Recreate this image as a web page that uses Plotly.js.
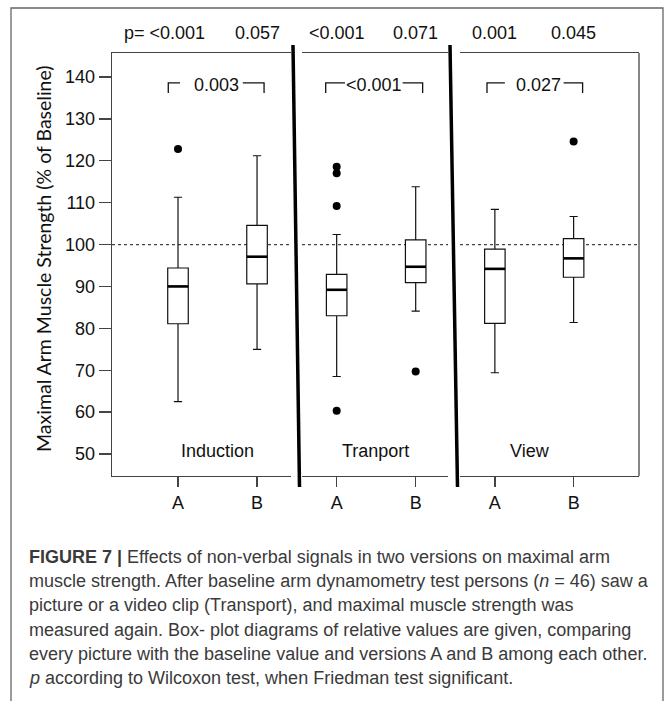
<!DOCTYPE html>
<html>
<head>
<meta charset="utf-8">
<script src="https://cdn.plot.ly/plotly-3.0.1.min.js"></script>
<style>
html,body{margin:0;padding:0;background:#fff;}
#chart{width:670px;height:701px;}
</style>
</head>
<body>
<div id="chart"></div>
<script>
// ---- data ----
const versions = ['A', 'B'];
const panels = ['Induction', 'Tranport', 'View'];
// order per panel: [A, B]
const lowerWhisker = [[62.5, 75.0], [68.5, 84.1], [69.4, 81.4]];
const q1 = [[81.1, 90.6], [83.0, 90.9], [81.2, 92.2]];
const median = [[90.0, 97.1], [89.2, 94.7], [94.2, 96.7]];
const q3 = [[94.4, 104.6], [92.9, 101.1], [98.9, 101.4]];
const upperWhisker = [[111.3, 121.2], [102.4, 113.8], [108.4, 106.7]];
const outliers = [[[122.8], []], [[118.6, 117.0, 109.2, 60.3], [69.7]], [[], [124.6]]];
const friedmanP = [['<0.001', '0.057'], ['<0.001', '0.071'], ['0.001', '0.045']];
const wilcoxonAB = ['0.003', '<0.001', '0.027'];
const baselineValue = 100;
const yTicks = [50, 60, 70, 80, 90, 100, 110, 120, 130, 140];
const captionLines = [
  '<b>FIGURE 7 |</b> Effects of non-verbal signals in two versions on maximal arm',
  'muscle strength. After baseline arm dynamometry test persons (<i>n</i> = 46) saw a',
  'picture or a video clip (Transport), and maximal muscle strength was',
  'measured again. Box- plot diagrams of relative values are given, comparing',
  'every picture with the baseline value and versions A and B among each other.',
  '<i>p</i> according to Wilcoxon test, when Friedman test significant.'
];

// ---- layout geometry ----
const W = 670, H = 701;
const M = {l: 112, r: 31, t: 53, b: 225};
const PW = W - M.l - M.r, PH = H - M.t - M.b;
const px2x = px => (px - M.l) / PW;
const py2y = py => (H - M.b - py) / PH;

const domains = [[0, 0.3397], [0.3605, 0.6376], [0.6603, 1]];
const ranges = [[-0.835, 1.43], [-0.439, 1.409], [-0.443, 1.83]];
const xNames = ['x', 'x2', 'x3'];
const xKeys = ['xaxis', 'xaxis2', 'xaxis3'];
const bracket = [
  {l: -0.123, h1: 0.025, h2: 0.82, r: 1.089, t: 0.487},
  {l: -0.139, h1: 0.105, h2: 0.835, r: 1.088, t: 0.47},
  {l: -0.10, h1: 0.127, h2: 0.873, r: 1.114, t: 0.55}
];
const labelPos = [0.5, 0.495, 0.45];

const FONT = 'Liberation Sans, Arial, Helvetica, sans-serif';
const INK = '#111';
const FRAME = '#444';

const traces = [];
const shapes = [];
const annotations = [];

panels.forEach((name, p) => {
  const xa = xNames[p];
  traces.push({
    type: 'box',
    name: name,
    x: versions,
    q1: q1[p], median: median[p], q3: q3[p],
    lowerfence: lowerWhisker[p], upperfence: upperWhisker[p],
    xaxis: xa, yaxis: 'y',
    boxpoints: false,
    width: 0.26,
    whiskerwidth: 0.4,
    fillcolor: '#ffffff',
    line: {color: INK, width: 1.2},
    showlegend: false,
    hoverinfo: 'y'
  });
  // outliers
  const ox = [], oy = [];
  versions.forEach((v, i) => outliers[p][i].forEach(val => { ox.push(v); oy.push(val); }));
  traces.push({
    type: 'scatter', mode: 'markers', x: ox, y: oy,
    xaxis: xa, yaxis: 'y',
    marker: {color: '#000', size: 8},
    showlegend: false, hoverinfo: 'y'
  });
  // thick median lines
  versions.forEach((v, i) => {
    shapes.push({type: 'line', xref: xa, yref: 'y', x0: i - 0.13, x1: i + 0.13,
      y0: median[p][i], y1: median[p][i], line: {color: '#000', width: 2.6}, layer: 'above'});
  });
  // baseline dotted line
  shapes.push({type: 'line', xref: xa + ' domain', yref: 'y', x0: 0, x1: 1,
    y0: baselineValue, y1: baselineValue, line: {color: '#444', width: 1.3, dash: 'dot'}, layer: 'below'});
  // Friedman p-values on top
  versions.forEach((v, i) => {
    const first = (p === 0 && i === 0);
    annotations.push({xref: xa, yref: 'paper', x: i, y: py2y(33),
      text: (first ? 'p= ' : '') + friedmanP[p][i], showarrow: false,
      xanchor: 'center', yanchor: 'middle', xshift: first ? -14 : 0,
      font: {family: FONT, size: 18, color: INK}});
  });
  // A vs B bracket
  const b = bracket[p];
  const yTop = 138.6, yBot = 136.2;
  shapes.push({type: 'path', xref: xa, yref: 'y',
    path: `M${b.l},${yBot} L${b.l},${yTop} L${b.h1},${yTop}`, line: {color: INK, width: 1.3}});
  shapes.push({type: 'path', xref: xa, yref: 'y',
    path: `M${b.h2},${yTop} L${b.r},${yTop} L${b.r},${yBot}`, line: {color: INK, width: 1.3}});
  annotations.push({xref: xa, yref: 'y', x: b.t, y: 138.1, text: wilcoxonAB[p], showarrow: false,
    xanchor: 'center', yanchor: 'middle', font: {family: FONT, size: 18, color: INK}});
  // panel label
  annotations.push({xref: xa, yref: 'y', x: labelPos[p], y: 50.6, text: name, showarrow: false,
    xanchor: 'center', yanchor: 'middle', font: {family: FONT, size: 18, color: INK}});
});

// panel 3 right edge
shapes.push({type: 'line', xref: 'x3 domain', yref: 'y domain', x0: 1, x1: 1, y0: 0, y1: 1,
  line: {color: FRAME, width: 1.3}});
// thick separators
shapes.push({type: 'line', xref: 'paper', yref: 'paper', x0: px2x(293), x1: px2x(299.5),
  y0: py2y(45), y1: py2y(487), line: {color: '#000', width: 3.5}});
shapes.push({type: 'line', xref: 'paper', yref: 'paper', x0: px2x(450), x1: px2x(457.5),
  y0: py2y(45), y1: py2y(487), line: {color: '#000', width: 3.5}});
// outer figure border
shapes.push({type: 'rect', xref: 'paper', yref: 'paper', x0: px2x(11), x1: px2x(663),
  y0: py2y(8), y1: py2y(720), line: {color: '#666', width: 1.3}, fillcolor: 'rgba(0,0,0,0)'});

// y-axis title
annotations.push({xref: 'paper', yref: 'paper', x: px2x(43), y: py2y(259),
  text: 'Maximal Arm Muscle Strength (% of Baseline)', textangle: -90, showarrow: false,
  xanchor: 'center', yanchor: 'middle', font: {family: 'Lato, Open Sans, sans-serif', size: 19.5, color: INK}});

// caption
const capY = [557, 581, 605, 630, 654, 678];
captionLines.forEach((t, i) => {
  annotations.push({xref: 'paper', yref: 'paper', x: px2x(27), y: py2y(capY[i]), text: t,
    showarrow: false, xanchor: 'left', yanchor: 'middle', align: 'left',
    font: {family: FONT, size: 18, color: '#3a3a3a'}});
});

const layout = {
  width: W, height: H,
  margin: M,
  paper_bgcolor: '#fff', plot_bgcolor: '#fff',
  showlegend: false,
  yaxis: {
    anchor: 'x', range: [44.75, 145.73], tickvals: yTicks, ticks: 'outside', ticklen: 12,
    tickcolor: FRAME, tickwidth: 1.3, showline: true, linecolor: FRAME, linewidth: 1.3,
    showgrid: false, zeroline: false, tickfont: {family: FONT, size: 18, color: INK}
  },
  shapes: shapes,
  annotations: annotations
};
xKeys.forEach((k, p) => {
  layout[k] = {
    type: 'category', domain: domains[p], range: ranges[p], anchor: 'y',
    ticks: 'outside', ticklen: 10, tickcolor: FRAME, tickwidth: 1.3,
    showline: true, mirror: true, linecolor: FRAME, linewidth: 1.3,
    showgrid: false, zeroline: false, tickfont: {family: FONT, size: 18, color: INK}
  };
});

Plotly.newPlot('chart', traces, layout, {displayModeBar: false, staticPlot: true});
</script>
</body>
</html>
